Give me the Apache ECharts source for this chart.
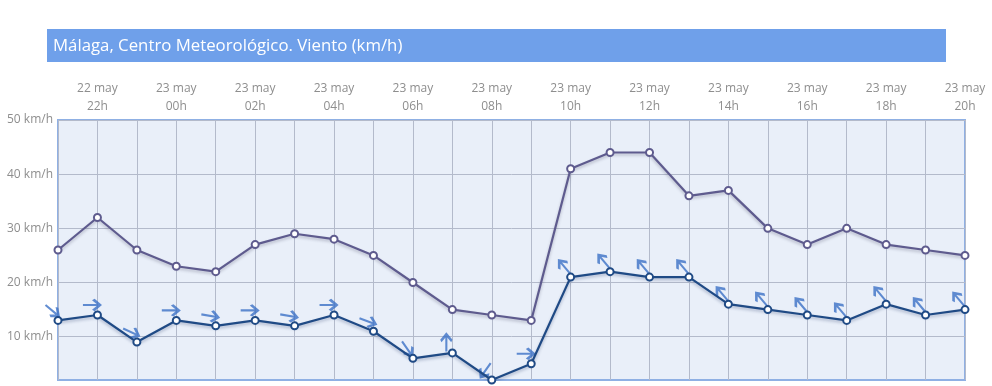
<!DOCTYPE html>
<html>
<head>
<meta charset="utf-8">
<script src="https://cdn.jsdelivr.net/npm/echarts@6/dist/echarts.min.js"></script>
<style>
html,body{margin:0;padding:0;background:#fff;}
#chart{width:992px;height:386px;}
</style>
</head>
<body>
<div id="chart"></div>
<script>
const categories = ['22 may\n21h','22 may\n22h','22 may\n23h','23 may\n00h','23 may\n01h','23 may\n02h','23 may\n03h','23 may\n04h','23 may\n05h','23 may\n06h','23 may\n07h','23 may\n08h','23 may\n09h','23 may\n10h','23 may\n11h','23 may\n12h','23 may\n13h','23 may\n14h','23 may\n15h','23 may\n16h','23 may\n17h','23 may\n18h','23 may\n19h','23 may\n20h'];
const gustValues = [26,32,26,23,22,27,29,28,25,20,15,14,13,41,44,44,36,37,30,27,30,27,26,25];
const windValues = [13,14,9,13,12,13,12,14,11,6,7,2,5,21,22,21,21,16,15,14,13,16,14,15];
const windDir = [-40,0,-25,0,-10,0,-10,0,-20,-55,90,-125,0,130,130,130,130,130,130,130,130,130,130,130];
const yTickValues = [10,20,30,40,50];
const titleText = 'Málaga, Centro Meteorológico. Viento (km/h)';

const chart = echarts.init(document.getElementById('chart'), null, {renderer:'canvas'});
const font = '"Open Sans", "Noto Sans", sans-serif';
const arrowPath = 'path://M0,6 L18,6 M11,0 L18,6 L11,12';

chart.setOption({
  animation: false,
  backgroundColor: '#ffffff',
  graphic: [{
    type: 'rect', left: 47, top: 29, z: 0,
    shape: {width: 899, height: 33},
    style: {fill: '#6fa0ea'}
  }],
  title: {
    text: titleText, left: 47, top: 29, padding: [9, 6, 5, 6],
    textStyle: {color: '#ffffff', fontSize: 16.8, fontWeight: 'normal', fontFamily: font}
  },
  grid: {
    left: 58, right: 27, top: 120, bottom: 6,
    show: true, backgroundColor: '#e9eff9', borderColor: '#8fb0e4', borderWidth: 2
  },
  xAxis: {
    type: 'category', data: categories, position: 'top', boundaryGap: false,
    axisLine: {show: false}, axisTick: {show: false},
    axisLabel: {
      interval: (i) => i % 2 === 1,
      color: '#8e8e8e', fontSize: 12, fontFamily: font, lineHeight: 18, margin: 4
    },
    splitLine: {show: true, interval: 0, lineStyle: {color: '#b3bacb', width: 1}}
  },
  yAxis: {
    type: 'value', min: 2, max: 50,
    axisLine: {show: false},
    axisTick: {show: false, customValues: yTickValues},
    axisLabel: {
      customValues: yTickValues, formatter: '{value} km/h',
      color: '#8e8e8e', fontSize: 12, fontFamily: font, margin: 5
    },
    splitLine: {show: true, lineStyle: {color: '#b3bacb', width: 1}}
  },
  series: [
    {
      type: 'line', data: gustValues, z: 3,
      symbol: 'circle', symbolSize: 7,
      lineStyle: {color: '#5e5b8e', width: 2.2, shadowColor: 'rgba(60,60,90,0.3)', shadowBlur: 3, shadowOffsetY: 2},
      itemStyle: {color: '#ffffff', borderColor: '#5e5b8e', borderWidth: 2}
    },
    {
      type: 'line', data: windValues, z: 4,
      symbol: 'circle', symbolSize: 7,
      lineStyle: {color: '#1f4a85', width: 2.2, shadowColor: 'rgba(30,50,100,0.3)', shadowBlur: 3, shadowOffsetY: 2},
      itemStyle: {color: '#ffffff', borderColor: '#1f4a85', borderWidth: 2}
    },
    {
      type: 'scatter', z: 2,
      data: windValues.map((v, i) => ({value: v, symbolRotate: windDir[i]})),
      symbol: arrowPath, symbolSize: [17, 11], symbolOffset: [-6, -10],
      itemStyle: {color: 'none', borderColor: '#3b70c6', borderWidth: 2.6}
    }
  ]
});
</script>
</body>
</html>
